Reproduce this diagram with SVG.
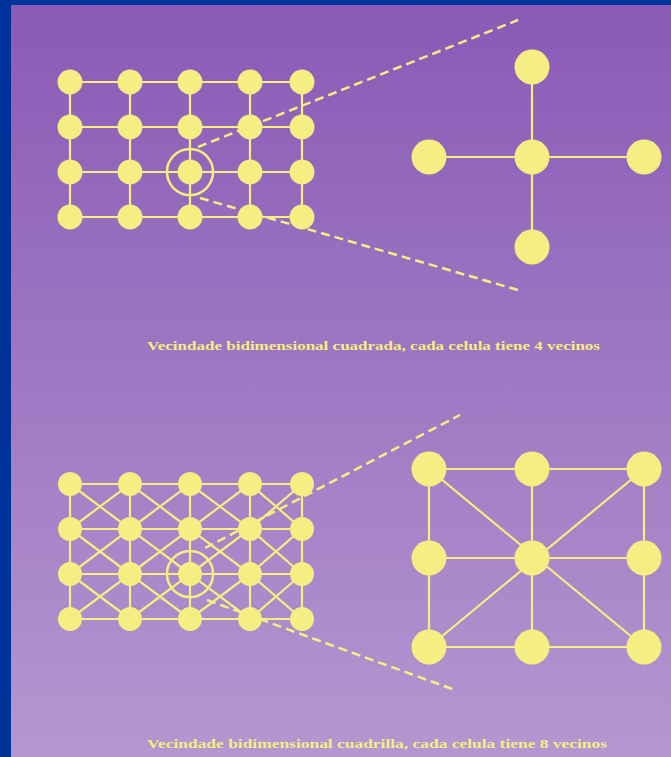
<svg xmlns="http://www.w3.org/2000/svg" width="671" height="757" viewBox="0 0 671 757">
  <defs>
    <linearGradient id="bg" x1="0" y1="0" x2="0" y2="1">
      <stop offset="0" stop-color="#8a5ab6"/>
      <stop offset="1" stop-color="#b497d0"/>
    </linearGradient>
    <style>
      .edge { stroke: #f5ee82; stroke-width: 2.2; fill: none; }
      .dash { stroke: #f5ee82; stroke-width: 2.5; fill: none; stroke-dasharray: 9 5; }
      .ring { stroke: #f5ee82; stroke-width: 2.5; fill: none; }
      .cell { fill: #f5ee82; }
      .caption { font-family: "Liberation Serif", "Times New Roman", serif; font-weight: bold; font-size: 13.5px; fill: #f5ee82; }
    </style>
  </defs>

  <!-- slide frame -->
  <rect x="0" y="0" width="671" height="757" fill="#003399"/>
  <rect x="11" y="5" width="660" height="752" fill="url(#bg)"/>

  <!-- connectors -->
  <g id="connectors">
    <!-- von Neumann lattice -->
    <g id="lattice-4">
      <path class="edge" d="M70 82H302M70 127H302M70 172H302M70 217H302M70 82V217M130 82V217M190 82V217M250 82V217M302 82V217"/>
      <circle class="ring" cx="190" cy="172" r="23"/>
      <path class="dash" d="M198 147L518 20"/>
      <path class="dash" d="M200 198L518 290"/>
    </g>
    <!-- von Neumann neighbourhood -->
    <g id="star-4">
      <path class="edge" d="M532 67V247M429 157H644"/>
    </g>
    <!-- Moore lattice -->
    <g id="lattice-8">
      <path class="edge" d="M70 484H302M70 529H302M70 574H302M70 619H302M70 484V619M130 484V619M190 484V619M250 484V619M302 484V619"/>
      <path class="edge" d="M70 484L130 529L190 484L250 529L302 484M70 529L130 484L190 529L250 484L302 529M70 529L130 574L190 529L250 574L302 529M70 574L130 529L190 574L250 529L302 574M70 574L130 619L190 574L250 619L302 574M70 619L130 574L190 619L250 574L302 619"/>
      <circle class="ring" cx="190" cy="574" r="23"/>
      <path class="dash" d="M205 548L460 415"/>
      <path class="dash" d="M207 600L455 690"/>
    </g>
    <!-- Moore neighbourhood -->
    <g id="star-8">
      <path class="edge" d="M429 469H644M429 558H644M429 647H644M429 469V647M532 469V647M644 469V647M429 469L644 647M644 469L429 647"/>
    </g>
  </g>

  <!-- von Neumann lattice cells -->
  <g id="a-r1c1"><circle class="cell" cx="70" cy="82" r="12.5"/></g>
  <g id="a-r1c2"><circle class="cell" cx="130" cy="82" r="12.5"/></g>
  <g id="a-r1c3"><circle class="cell" cx="190" cy="82" r="12.5"/></g>
  <g id="a-r1c4"><circle class="cell" cx="250" cy="82" r="12.5"/></g>
  <g id="a-r1c5"><circle class="cell" cx="302" cy="82" r="12.5"/></g>
  <g id="a-r2c1"><circle class="cell" cx="70" cy="127" r="12.5"/></g>
  <g id="a-r2c2"><circle class="cell" cx="130" cy="127" r="12.5"/></g>
  <g id="a-r2c3"><circle class="cell" cx="190" cy="127" r="12.5"/></g>
  <g id="a-r2c4"><circle class="cell" cx="250" cy="127" r="12.5"/></g>
  <g id="a-r2c5"><circle class="cell" cx="302" cy="127" r="12.5"/></g>
  <g id="a-r3c1"><circle class="cell" cx="70" cy="172" r="12.5"/></g>
  <g id="a-r3c2"><circle class="cell" cx="130" cy="172" r="12.5"/></g>
  <g id="a-r3c3"><circle class="cell" cx="190" cy="172" r="12.5"/></g>
  <g id="a-r3c4"><circle class="cell" cx="250" cy="172" r="12.5"/></g>
  <g id="a-r3c5"><circle class="cell" cx="302" cy="172" r="12.5"/></g>
  <g id="a-r4c1"><circle class="cell" cx="70" cy="217" r="12.5"/></g>
  <g id="a-r4c2"><circle class="cell" cx="130" cy="217" r="12.5"/></g>
  <g id="a-r4c3"><circle class="cell" cx="190" cy="217" r="12.5"/></g>
  <g id="a-r4c4"><circle class="cell" cx="250" cy="217" r="12.5"/></g>
  <g id="a-r4c5"><circle class="cell" cx="302" cy="217" r="12.5"/></g>

  <!-- von Neumann neighbourhood cells -->
  <g id="b-center"><circle class="cell" cx="532" cy="157" r="17.5"/></g>
  <g id="b-north"><circle class="cell" cx="532" cy="67" r="17.5"/></g>
  <g id="b-south"><circle class="cell" cx="532" cy="247" r="17.5"/></g>
  <g id="b-west"><circle class="cell" cx="429" cy="157" r="17.5"/></g>
  <g id="b-east"><circle class="cell" cx="644" cy="157" r="17.5"/></g>

  <text class="caption" x="147" y="350" textLength="453" lengthAdjust="spacingAndGlyphs">Vecindade bidimensional cuadrada, cada celula tiene 4 vecinos</text>

  <!-- Moore lattice cells -->
  <g id="c-r1c1"><circle class="cell" cx="70" cy="484" r="12"/></g>
  <g id="c-r1c2"><circle class="cell" cx="130" cy="484" r="12"/></g>
  <g id="c-r1c3"><circle class="cell" cx="190" cy="484" r="12"/></g>
  <g id="c-r1c4"><circle class="cell" cx="250" cy="484" r="12"/></g>
  <g id="c-r1c5"><circle class="cell" cx="302" cy="484" r="12"/></g>
  <g id="c-r2c1"><circle class="cell" cx="70" cy="529" r="12"/></g>
  <g id="c-r2c2"><circle class="cell" cx="130" cy="529" r="12"/></g>
  <g id="c-r2c3"><circle class="cell" cx="190" cy="529" r="12"/></g>
  <g id="c-r2c4"><circle class="cell" cx="250" cy="529" r="12"/></g>
  <g id="c-r2c5"><circle class="cell" cx="302" cy="529" r="12"/></g>
  <g id="c-r3c1"><circle class="cell" cx="70" cy="574" r="12"/></g>
  <g id="c-r3c2"><circle class="cell" cx="130" cy="574" r="12"/></g>
  <g id="c-r3c3"><circle class="cell" cx="190" cy="574" r="12"/></g>
  <g id="c-r3c4"><circle class="cell" cx="250" cy="574" r="12"/></g>
  <g id="c-r3c5"><circle class="cell" cx="302" cy="574" r="12"/></g>
  <g id="c-r4c1"><circle class="cell" cx="70" cy="619" r="12"/></g>
  <g id="c-r4c2"><circle class="cell" cx="130" cy="619" r="12"/></g>
  <g id="c-r4c3"><circle class="cell" cx="190" cy="619" r="12"/></g>
  <g id="c-r4c4"><circle class="cell" cx="250" cy="619" r="12"/></g>
  <g id="c-r4c5"><circle class="cell" cx="302" cy="619" r="12"/></g>

  <!-- Moore neighbourhood cells -->
  <g id="d-nw"><circle class="cell" cx="429" cy="469" r="17.5"/></g>
  <g id="d-n"><circle class="cell" cx="532" cy="469" r="17.5"/></g>
  <g id="d-ne"><circle class="cell" cx="644" cy="469" r="17.5"/></g>
  <g id="d-w"><circle class="cell" cx="429" cy="558" r="17.5"/></g>
  <g id="d-center"><circle class="cell" cx="532" cy="558" r="17.5"/></g>
  <g id="d-e"><circle class="cell" cx="644" cy="558" r="17.5"/></g>
  <g id="d-sw"><circle class="cell" cx="429" cy="647" r="17.5"/></g>
  <g id="d-s"><circle class="cell" cx="532" cy="647" r="17.5"/></g>
  <g id="d-se"><circle class="cell" cx="644" cy="647" r="17.5"/></g>

  <text class="caption" x="147" y="748" textLength="460" lengthAdjust="spacingAndGlyphs">Vecindade bidimensional cuadrilla, cada celula tiene 8 vecinos</text>
</svg>
